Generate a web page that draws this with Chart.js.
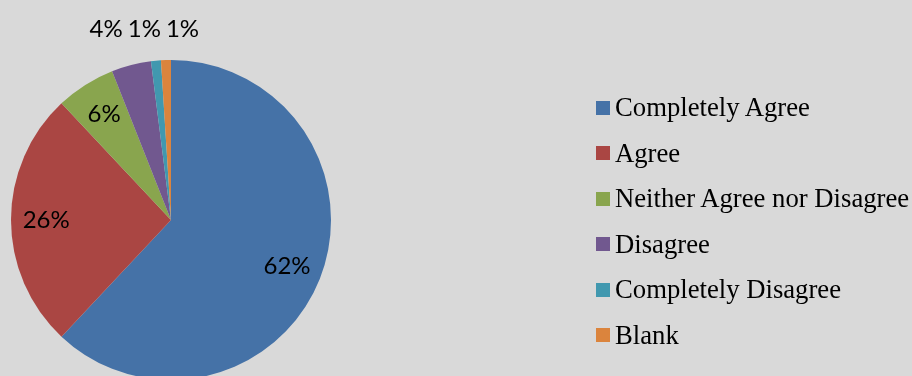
<!DOCTYPE html>
<html>
<head>
<meta charset="utf-8">
<script src="https://cdn.jsdelivr.net/npm/chart.js@4"></script>
<style>
  html, body { margin: 0; padding: 0; background: #d9d9d9; overflow: hidden; }
  #wrap { position: relative; width: 912px; height: 376px; overflow: hidden; }
  #pie { position: absolute; left: 0; top: 0; }
  #legend { position: absolute; left: 596px; top: 85px; font-family: "Liberation Serif", "Times New Roman", serif; font-size: 26.7px; color: #000; }
  .item { display: flex; align-items: center; height: 45.5px; white-space: nowrap; }
  .sw { width: 14px; height: 14px; margin-right: 5px; flex: none; }
</style>
</head>
<body>
<div id="wrap">
  <canvas id="pie" width="912" height="440" style="width:912px;height:440px"></canvas>
  <div id="legend"></div>
</div>
<script>
const categories = ['Completely Agree', 'Agree', 'Neither Agree nor Disagree', 'Disagree', 'Completely Disagree', 'Blank'];
const shares = [62, 26, 6, 4, 1, 1];
const colors = ['#4572a7', '#aa4643', '#89a54e', '#71588f', '#4198af', '#db843d'];

// legend
const legendDiv = document.getElementById('legend');
categories.forEach((c, i) => {
  const row = document.createElement('div');
  row.className = 'item';
  row.innerHTML = `<span class="sw" style="background:${colors[i]}"></span><span>${c}</span>`;
  legendDiv.appendChild(row);
});

// percent labels: big slices inside, small ones in a row above the pie
const pctLabels = {
  id: 'pctLabels',
  afterDraw(chart) {
    const ctx = chart.ctx;
    const arcs = chart.getDatasetMeta(0).data;
    ctx.save();
    ctx.font = '24px Lato, "Open Sans", sans-serif';
    ctx.fillStyle = '#000';
    ctx.textAlign = 'center';
    ctx.textBaseline = 'middle';
    const outside = [];
    arcs.forEach((arc, i) => {
      const p = arc.getProps(['x', 'y', 'startAngle', 'endAngle', 'outerRadius'], true);
      const mid = (p.startAngle + p.endAngle) / 2;
      const text = shares[i] + '%';
      if (shares[i] >= 5) {
        const r = p.outerRadius * 0.78;
        ctx.fillText(text, p.x + Math.cos(mid) * r, p.y + Math.sin(mid) * r);
      } else {
        const r = p.outerRadius + 30;
        outside.push({ text, x: p.x + Math.cos(mid) * r, y: p.y - p.outerRadius - 31, w: ctx.measureText(text).width });
      }
    });
    outside.sort((a, b) => a.x - b.x);
    const mean = outside.reduce((s, o) => s + o.x, 0) / (outside.length || 1);
    for (let i = 1; i < outside.length; i++) {
      const minX = outside[i - 1].x + (outside[i - 1].w + outside[i].w) / 2 + 5;
      if (outside[i].x < minX) outside[i].x = minX;
    }
    const shift = mean - outside.reduce((s, o) => s + o.x, 0) / (outside.length || 1) - 3;
    outside.forEach(o => ctx.fillText(o.text, o.x + shift, o.y));
    ctx.restore();
  }
};

new Chart(document.getElementById('pie').getContext('2d'), {
  type: 'pie',
  data: {
    labels: categories,
    datasets: [{
      data: shares,
      backgroundColor: colors,
      borderWidth: 0
    }]
  },
  options: {
    responsive: false,
    animation: false,
    layout: { padding: { left: 11, right: 581, top: 60, bottom: 60 } },
    plugins: {
      legend: { display: false },
      tooltip: { enabled: false }
    }
  },
  plugins: [pctLabels]
});
</script>
</body>
</html>
